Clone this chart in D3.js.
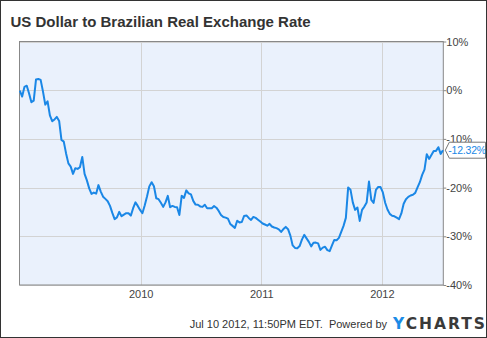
<!DOCTYPE html>
<html>
<head>
<meta charset="utf-8">
<script src="https://cdn.jsdelivr.net/npm/d3@7"></script>
<style>
  html, body { margin: 0; padding: 0; background: #fff; }
  svg { display: block; font-family: "Liberation Sans", Arial, sans-serif; }
</style>
</head>
<body>
<svg id="chart" width="487" height="338"></svg>
<script>
// ---------- data ----------
const title = "US Dollar to Brazilian Real Exchange Rate";
const seriesName = "USD/BRL % change";
const firstWeek = "2008-12-31";           // weekly observations start here
const domainStart = "2008-12-30";
const domainEnd = "2012-07-05";
const yTicks = [10, 0, -10, -20, -30, -40];
const xTickYears = ["2010", "2011", "2012"];
const lastLabel = "-12.32%";
const footerText = "Jul 10 2012, 11:50PM EDT.  Powered by";
const values = [
  -0.08, -1.31, 0.68, 0.92, -0.66, -2.46, -2.14, 2.22, 2.32, 2.11,
  -0.25, -2.96, -2.30, -5.17, -6.37, -6.00, -5.48, -6.30, -10.21, -10.55,
  -12.98, -15.03, -15.69, -17.19, -16.02, -16.16, -15.81, -13.70, -17.19, -18.52,
  -20.16, -21.29, -21.03, -21.25, -19.49, -20.82, -21.87, -22.32, -22.79, -23.76,
  -25.20, -26.47, -26.12, -24.99, -25.87, -25.54, -25.26, -25.26, -25.75, -24.23,
  -23.04, -23.76, -24.58, -25.26, -23.66, -21.81, -19.75, -18.89, -19.71, -22.18,
  -22.38, -23.10, -23.96, -23.04, -21.70, -24.02, -23.76, -23.96, -24.02, -25.61,
  -21.70, -22.11, -20.57, -21.19, -21.40, -22.73, -23.49, -23.51, -23.86, -23.96,
  -23.51, -24.23, -24.23, -24.23, -23.80, -24.13, -24.78, -25.61, -26.02, -26.16,
  -26.37, -27.45, -27.86, -28.28, -26.80, -27.15, -27.06, -25.81, -25.71, -26.22,
  -26.63, -26.02, -26.22, -26.59, -26.98, -27.37, -27.58, -27.82, -27.45, -27.99,
  -28.19, -28.32, -28.56, -29.10, -28.52, -28.07, -28.54, -29.86, -31.87, -32.38,
  -32.44, -32.00, -30.68, -29.71, -30.43, -31.15, -32.07, -31.31, -31.29, -31.46,
  -32.79, -32.32, -32.14, -32.85, -33.04, -31.87, -30.74, -30.80, -30.33, -29.10,
  -27.86, -26.22, -19.96, -20.43, -23.04, -24.58, -24.09, -26.84, -24.58, -23.90,
  -23.04, -18.77, -22.53, -23.14, -20.47, -19.86, -19.90, -20.99, -23.10, -24.50,
  -25.40, -25.77, -25.89, -26.18, -26.47, -25.30, -23.31, -22.38, -21.91, -21.62,
  -21.46, -21.09, -19.96, -18.89, -17.39, -16.30, -13.14, -14.11, -13.29, -12.46,
  -12.46, -11.70, -13.08, -12.32
];

// ---------- layout ----------
const W = 487, H = 338;
const plot = { left: 19.5, right: 443.3, top: 41.5, bottom: 285 };
const parse = d3.timeParse("%Y-%m-%d");
const start = parse(firstWeek);
const data = values.map((v, i) => ({ date: d3.timeDay.offset(start, 7 * i), value: v }));

const x = d3.scaleTime()
  .domain([parse(domainStart), parse(domainEnd)])
  .range([plot.left, plot.right]);
const y = d3.scaleLinear().domain([-40, 10]).range([plot.bottom, plot.top]);

const svg = d3.select("#chart");

// outer frame
svg.append("rect").attr("x", 0.5).attr("y", 0.5).attr("width", W - 1).attr("height", H - 1)
  .attr("fill", "#fff").attr("stroke", "#333").attr("stroke-width", 1);

// title
svg.append("text").attr("x", 10.5).attr("y", 26.5)
  .attr("font-size", 15).attr("font-weight", "bold").attr("fill", "#333")
  .text(title);

// plot background
svg.append("rect")
  .attr("x", plot.left).attr("y", plot.top)
  .attr("width", plot.right - plot.left).attr("height", plot.bottom - plot.top)
  .attr("fill", "#eaf1fc");

// grid
const yearDates = xTickYears.map(s => parse(s + "-01-01"));
svg.append("g").selectAll("line").data(yTicks).join("line")
  .attr("x1", plot.left).attr("x2", plot.right)
  .attr("y1", d => Math.round(y(d)) + 0.5).attr("y2", d => Math.round(y(d)) + 0.5)
  .attr("stroke", "#d3d3d3").attr("stroke-width", 1);
svg.append("g").selectAll("line").data(yearDates).join("line")
  .attr("x1", d => Math.round(x(d)) + 0.5).attr("x2", d => Math.round(x(d)) + 0.5)
  .attr("y1", plot.top).attr("y2", plot.bottom)
  .attr("stroke", "#d3d3d3").attr("stroke-width", 1);

// plot border
svg.append("rect")
  .attr("x", plot.left).attr("y", plot.top)
  .attr("width", plot.right - plot.left).attr("height", plot.bottom - plot.top)
  .attr("fill", "none").attr("stroke", "#888").attr("stroke-width", 1);

// y axis labels (right)
const yAxis = d3.axisRight(y).tickValues(yTicks).tickSize(3).tickFormat(d => d + "%");
const ya = svg.append("g").attr("transform", `translate(${plot.right},0)`).call(yAxis);
ya.select(".domain").remove();
ya.selectAll(".tick line").attr("stroke", "#888");
ya.selectAll(".tick text").attr("x", 3).attr("font-size", 11).attr("fill", "#444")
  .attr("font-family", "'Liberation Sans', Arial, sans-serif");

// x axis labels
const xAxis = d3.axisBottom(x).tickValues(yearDates).tickSize(0).tickFormat(d3.timeFormat("%Y"));
const xa = svg.append("g").attr("transform", `translate(0,${plot.bottom})`).call(xAxis);
xa.select(".domain").remove();
xa.selectAll(".tick text").attr("dy", "0.71em").attr("y", 5).attr("font-size", 11).attr("fill", "#444")
  .attr("font-family", "'Liberation Sans', Arial, sans-serif");

// line
const line = d3.line().x(d => x(d.date)).y(d => y(d.value)).curve(d3.curveLinear);
svg.append("path").datum(data)
  .attr("d", line).attr("fill", "none")
  .attr("stroke", "#1a87e6").attr("stroke-width", 2).attr("stroke-linejoin", "round")
  .append("title").text(seriesName);

// last value label
const last = data[data.length - 1];
const ly = y(last.value);
const bx = plot.right + 2, bw = W - 1.5 - (plot.right + 2), bh = 16;
const lbl = svg.append("g");
lbl.append("path")
  .attr("d", `M${bx},${ly} L${bx + 4},${ly - bh / 2} L${bx + bw},${ly - bh / 2} L${bx + bw},${ly + bh / 2} L${bx + 4},${ly + bh / 2} Z`)
  .attr("fill", "#fff").attr("stroke", "#777").attr("stroke-width", 1);
lbl.append("text").attr("x", bx + 3).attr("y", ly).attr("dy", "0.35em")
  .attr("font-size", 10.5).attr("letter-spacing", -0.2).attr("fill", "#1a87e6").text(lastLabel);

// footer
svg.append("text").attr("x", 387).attr("y", 328).attr("text-anchor", "end")
  .attr("font-size", 11).attr("fill", "#333").style("white-space", "pre").text(footerText);
const logo = svg.append("text").attr("x", 393).attr("y", 329)
  .attr("font-size", 15.5).attr("font-weight", "bold").attr("letter-spacing", 2)
  .attr("font-family", "'DejaVu Sans', Arial, sans-serif");
logo.append("tspan").attr("fill", "#1a8be6").text("Y");
logo.append("tspan").attr("fill", "#3a3a3a").text("CHARTS");
</script>
</body>
</html>
